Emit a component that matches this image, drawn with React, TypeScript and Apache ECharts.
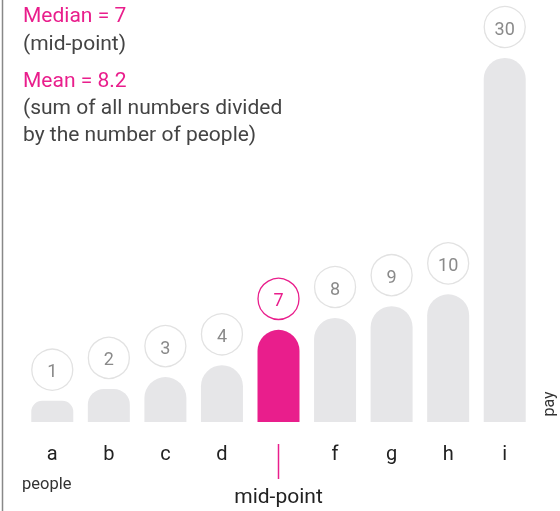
import React, { useEffect, useRef } from "react";
import * as echarts from "echarts";

const categories = ["a", "b", "c", "d", "e", "f", "g", "h", "i"];
const pay = [1, 2, 3, 4, 7, 8, 9, 10, 30];
const medianIndex = 4;
const cornerRadius = [11, 16, 21, 21, 21, 21, 21, 21, 21];
const noteLines = [
  { text: "Median = 7", pink: true },
  { text: "(mid-point)", pink: false },
  { text: "Mean = 8.2", pink: true },
  { text: "(sum of all numbers divided", pink: false },
  { text: "by the number of people)", pink: false },
];
const noteY = [15, 43, 80, 107, 134];

const PINK = "#E91E8C";
const GREY_BAR = "#E6E6E8";
const FONT = "Roboto, 'Noto Sans', sans-serif";
const Y_MIN = -0.8;
const Y_MAX = 30;

export default function App() {
  const ref = useRef<HTMLDivElement>(null);
  useEffect(() => {
    if (!ref.current) return;
    const chart = echarts.init(ref.current, undefined, { renderer: "svg" });
    const data = pay.map((v, i) => [i, v]);
    chart.setOption({
      animation: false,
      grid: { left: 24, right: 27, top: 58, bottom: 89 },
      xAxis: {
        type: "category",
        data: categories,
        axisLine: { show: false },
        axisTick: { show: false },
        axisLabel: {
          fontSize: 20,
          color: "#222",
          fontFamily: FONT,
          margin: 21,
          formatter: (v: string, i: number) => (i === medianIndex ? "" : v),
        },
      },
      yAxis: {
        type: "value",
        min: Y_MIN,
        max: Y_MAX,
        show: false,
      },
      series: [
        {
          type: "custom",
          data,
          renderItem: (params: any, api: any) => {
            const idx = api.value(0);
            const v = api.value(1);
            const top = api.coord([idx, v]);
            const base = api.coord([idx, Y_MIN]);
            const isMed = idx === medianIndex;
            const r = cornerRadius[idx];
            const cx = top[0];
            const cy = top[1] - 10 - 21;
            return {
              type: "group",
              children: [
                {
                  type: "rect",
                  shape: {
                    x: cx - 21,
                    y: top[1],
                    width: 42,
                    height: base[1] - top[1],
                    r: [r, r, 0, 0],
                  },
                  style: { fill: isMed ? PINK : GREY_BAR },
                },
                {
                  type: "circle",
                  shape: { cx, cy, r: 20.5 },
                  style: {
                    fill: "#fff",
                    stroke: isMed ? PINK : "#E2E2E2",
                    lineWidth: 1.3,
                  },
                },
                {
                  type: "text",
                  x: cx,
                  y: cy + 1,
                  style: {
                    text: String(v),
                    fontSize: 18,
                    fontFamily: FONT,
                    fill: isMed ? PINK : "#8A8A8A",
                    align: "center",
                    verticalAlign: "middle",
                  },
                },
              ],
            };
          },
        },
      ],
    });
    const mx = chart.convertToPixel({ xAxisIndex: 0 }, categories[medianIndex]) as number;
    const graphics: any[] = [
      {
        type: "line",
        shape: { x1: 2.5, y1: 0, x2: 2.5, y2: 511 },
        style: { stroke: "#888", lineWidth: 1.5 },
      },
      {
        type: "line",
        shape: { x1: mx, y1: 444, x2: mx, y2: 479 },
        style: { stroke: PINK, lineWidth: 1.5 },
      },
      {
        type: "text",
        x: mx,
        y: 496,
        style: {
          text: "mid-point",
          fontSize: 21,
          fontFamily: FONT,
          fill: "#222",
          align: "center",
          verticalAlign: "middle",
        },
      },
      {
        type: "text",
        x: 22,
        y: 483,
        style: {
          text: "people",
          fontSize: 16.5,
          fontFamily: FONT,
          fill: "#333",
          align: "left",
          verticalAlign: "middle",
        },
      },
      {
        type: "text",
        x: 548,
        y: 404,
        rotation: Math.PI / 2,
        style: {
          text: "pay",
          fontSize: 16,
          fontFamily: FONT,
          fill: "#333",
          align: "center",
          verticalAlign: "middle",
        },
      },
    ];
    noteLines.forEach((l, i) => {
      graphics.push({
        type: "text",
        x: 23,
        y: noteY[i],
        style: {
          text: l.text,
          fontSize: 21,
          fontFamily: FONT,
          fill: l.pink ? PINK : "#444",
          align: "left",
          verticalAlign: "middle",
        },
      });
    });
    chart.setOption({ graphic: graphics });
    return () => chart.dispose();
  }, []);
  return (
    <div
      ref={ref}
      style={{ position: "fixed", left: 0, top: 0, width: 560, height: 511 }}
    />
  );
}
